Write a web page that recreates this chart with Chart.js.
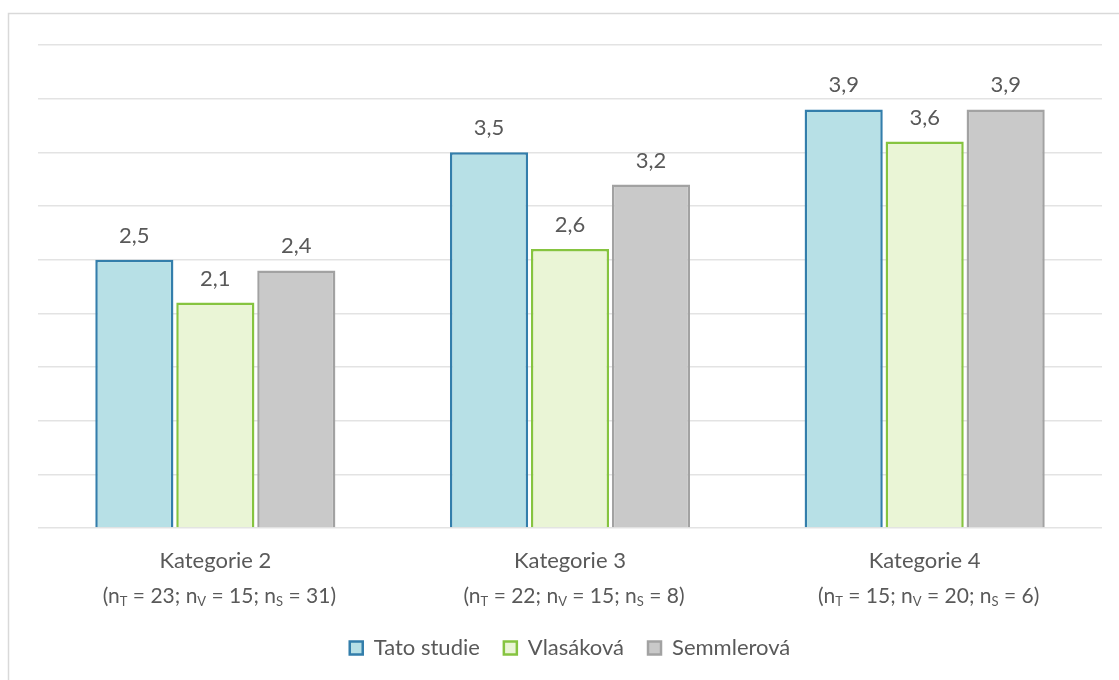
<!DOCTYPE html>
<html>
<head>
<meta charset="utf-8">
<script src="https://cdn.jsdelivr.net/npm/chart.js@4.4.1/dist/chart.umd.min.js"></script>
<style>
  html, body { margin: 0; padding: 0; background: #ffffff; }
  #wrap { position: absolute; left: 0; top: 0; width: 1119px; height: 680px; }
</style>
</head>
<body>
<div id="wrap"><canvas id="c" width="1119" height="680"></canvas></div>
<script>
// Categories and the sample-size line under each one
const categories = ['Kategorie 2', 'Kategorie 3', 'Kategorie 4'];
const sampleSizes = [
  { T: 23, V: 15, S: 31 },
  { T: 22, V: 15, S: 8 },
  { T: 15, V: 20, S: 6 }
];

// Mean scores per source
const seriesNames = ['Tato studie', 'Vlasáková', 'Semmlerová'];
const tatoStudie = [2.5, 3.5, 3.9];
const vlasakova = [2.1, 2.6, 3.6];
const semmlerova = [2.4, 3.2, 3.9];

const FONT = 'Lato, "Open Sans", sans-serif';
const SIZE = 22;
const TEXT = '#595959';

const fmt = v => v.toFixed(1).replace('.', ',');

// Outer frame of the chart object
const framePlugin = {
  id: 'frame',
  beforeDraw(chart) {
    const ctx = chart.ctx;
    ctx.save();
    ctx.fillStyle = '#ffffff';
    ctx.fillRect(0, 0, chart.width, chart.height);
    ctx.strokeStyle = '#d9d9d9';
    ctx.lineWidth = 1.5;
    ctx.strokeRect(8.5, 13.5, chart.width + 20, chart.height + 20);
    ctx.restore();
  }
};

// Value labels above each bar
const valueLabels = {
  id: 'valueLabels',
  afterDatasetsDraw(chart) {
    const ctx = chart.ctx;
    ctx.save();
    ctx.font = SIZE + 'px ' + FONT;
    ctx.fillStyle = TEXT;
    ctx.textAlign = 'center';
    ctx.textBaseline = 'middle';
    chart.data.datasets.forEach((ds, di) => {
      const meta = chart.getDatasetMeta(di);
      meta.data.forEach((bar, i) => {
        ctx.fillText(fmt(ds.data[i]), bar.x, bar.y - 24);
      });
    });
    ctx.restore();
  }
};

// Second category line with subscripted sample sizes
const sampleLine = {
  id: 'sampleLine',
  afterDraw(chart) {
    const ctx = chart.ctx;
    const xs = chart.scales.x;
    const y = xs.top + 68;
    ctx.save();
    ctx.fillStyle = TEXT;
    ctx.textBaseline = 'middle';
    ctx.textAlign = 'left';
    const big = '21px ' + FONT;
    const small = '13px ' + FONT;
    sampleSizes.forEach((n, i) => {
      const parts = [
        ['(n', big, 0], ['T', small, 6], [' = ' + n.T + '; n', big, 0],
        ['V', small, 6], [' = ' + n.V + '; n', big, 0],
        ['S', small, 6], [' = ' + n.S + ')', big, 0]
      ];
      let total = 0;
      parts.forEach(p => { ctx.font = p[1]; total += ctx.measureText(p[0]).width; });
      let x = xs.getPixelForValue(i) - total / 2 + 4;
      parts.forEach(p => {
        ctx.font = p[1];
        ctx.fillText(p[0], x, y + p[2]);
        x += ctx.measureText(p[0]).width;
      });
    });
    ctx.restore();
  }
};

new Chart(document.getElementById('c'), {
  type: 'bar',
  data: {
    labels: categories,
    datasets: [
      { label: seriesNames[0], data: tatoStudie, backgroundColor: '#b7e0e6', borderColor: '#337eab', borderWidth: 2.5 },
      { label: seriesNames[1], data: vlasakova, backgroundColor: '#eaf5d6', borderColor: '#86c440', borderWidth: 2.5 },
      { label: seriesNames[2], data: semmlerova, backgroundColor: '#c9c9c9', borderColor: '#a2a2a2', borderWidth: 2.5 }
    ]
  },
  options: {
    responsive: false,
    animation: false,
    layout: { padding: { left: 38, right: 17, top: 45, bottom: 11 } },
    datasets: { bar: { categoryPercentage: 0.685, barPercentage: 0.965 } },
    scales: {
      x: {
        grid: { display: false, drawTicks: false },
        border: { display: false },
        ticks: { color: TEXT, font: { family: FONT, size: SIZE }, padding: 20, maxRotation: 0 },
        afterFit(scale) { scale.height = 85; }
      },
      y: {
        min: 0, max: 4.5,
        ticks: { display: false, stepSize: 0.5 },
        grid: { color: '#e3e3e3', lineWidth: 1.5, drawTicks: false },
        border: { display: false }
      }
    },
    plugins: {
      legend: {
        position: 'bottom',
        labels: {
          color: TEXT,
          font: { family: FONT, size: SIZE },
          boxWidth: 13, boxHeight: 13,
          padding: 24
        }
      },
      tooltip: { enabled: false }
    }
  },
  plugins: [framePlugin, valueLabels, sampleLine]
});
</script>
</body>
</html>
